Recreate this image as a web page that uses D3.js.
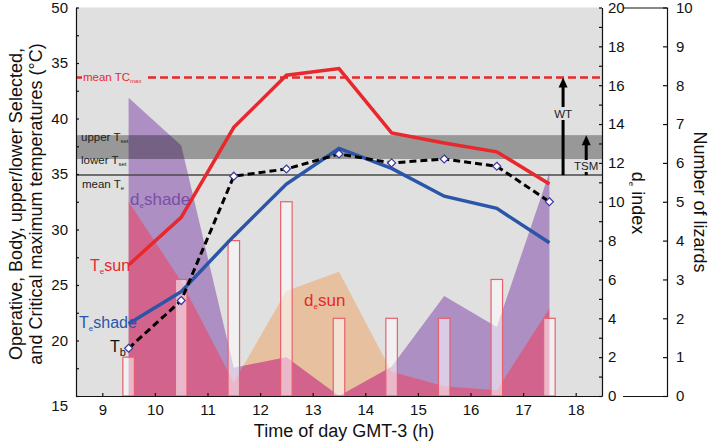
<!DOCTYPE html>
<html><head><meta charset="utf-8">
<script src="https://cdn.jsdelivr.net/npm/d3@7"></script>
<style>body{margin:0;background:#fff}svg{display:block;font-family:"Liberation Sans",Arial,sans-serif}</style>
</head><body><svg id="c" width="709" height="441"></svg>
<script>
// ---------- data ----------
const hours    = [9.5, 10.5, 11.5, 12.5, 13.5, 14.5, 15.5, 16.5, 17.5];
const teSun    = [26.8, 31.1, 39.2, 43.9, 44.5, 38.7, 37.8, 37.0, 34.1];
const teShade  = [21.5, 24.4, 29.4, 34.1, 37.3, 35.5, 33.0, 31.9, 28.8];
const tb       = [19.3, 23.6, 34.8, 35.45, 36.8, 36.0, 36.35, 35.7, 32.5];
const deShade  = [15.35, 12.9, 1.45, 2.0, 0.0, 1.5, 5.15, 3.55, 11.5];
const deSun    = [10.0, 5.9, 0.7, 5.4, 6.4, 1.25, 0.5, 0.3, 4.5];
const lizards  = [1, 3, 4, 5, 2, 2, 2, 3, 2];
const meanTCmax = 43.7, upperTset = 38.5, lowerTset = 36.35, meanTe = 34.9;
const wtHour = 17.76, tsmHour = 18.2;
const xTicks = [9, 10, 11, 12, 13, 14, 15, 16, 17, 18];
const leftTicks = [15, 20, 25, 30, 35, 40, 45, 50];
const leftTickLabels = ["15", "20", "25", "30", "35", "40", "35", "50"];
const leftMinor = [17.5, 22.5, 27.5, 32.5, 37.5, 42.5, 47.5];
const deTicks = [0, 2, 4, 6, 8, 10, 12, 14, 16, 18, 20];
const deMinor = [1, 3, 5, 7, 9, 11, 13, 15, 17, 19];
const nTicks = [0, 1, 2, 3, 4, 5, 6, 7, 8, 9, 10];

// ---------- layout ----------
const L = 76, R = 602, T = 7.5, B = 396;
const svg = d3.select("#c");
const x  = d3.scaleLinear().domain([8.5, 18.5]).range([L, R]);
const yT = d3.scaleLinear().domain([15, 50]).range([B, T]);
const yD = d3.scaleLinear().domain([0, 20]).range([B, T]);
const yN = d3.scaleLinear().domain([0, 10]).range([B, T]);
const BG = "#dfe0df", RED = "#e8282c", BLUE = "#2a55a8", PURPLE = "#7a4ea6";

svg.append("rect").attr("x", L).attr("y", T).attr("width", R - L).attr("height", B - T).attr("fill", BG);

// areas
const area = d3.area().x((d, i) => x(hours[i])).y0(yD(0)).y1(d => yD(d));
svg.append("defs").append("clipPath").attr("id", "shadeClip")
  .append("path").attr("d", area(deShade));
svg.append("path").attr("d", area(deShade)).attr("fill", "#8c58b0").attr("fill-opacity", 0.6);
svg.append("path").attr("d", area(deSun)).attr("fill", "#f29a52").attr("fill-opacity", 0.45);
svg.append("path").attr("d", area(deSun)).attr("clip-path", "url(#shadeClip)")
  .attr("fill", "#d4508a").attr("fill-opacity", 0.72);

// bars (number of lizards)
const bw = 11.5;
svg.append("g").selectAll("rect").data(lizards).join("rect")
  .attr("x", (d, i) => x(hours[i]) - bw / 2).attr("y", d => yN(d))
  .attr("width", bw).attr("height", d => yN(0) - yN(d))
  .attr("fill", "#fff").attr("fill-opacity", 0.55)
  .attr("stroke", "#e8606e").attr("stroke-width", 1.2);

// Tset band
svg.append("rect").attr("x", L).attr("width", R - L)
  .attr("y", yT(upperTset)).attr("height", yT(lowerTset) - yT(upperTset))
  .attr("fill", "#000").attr("fill-opacity", 0.32);

// mean Te line
svg.append("line").attr("x1", L).attr("x2", R).attr("y1", yT(meanTe)).attr("y2", yT(meanTe))
  .attr("stroke", "#4a4a4a").attr("stroke-width", 1.5);

// mean TCmax dashed
svg.append("line").attr("x1", L).attr("x2", R).attr("y1", yT(meanTCmax)).attr("y2", yT(meanTCmax))
  .attr("stroke", RED).attr("stroke-width", 2.5).attr("stroke-dasharray", "8,4");

// helper for text with subscripts
function richText(g, px, py, parts, size, color, anchor) {
  const t = g.append("text").attr("x", px).attr("y", py).attr("font-size", size)
    .attr("fill", color).attr("text-anchor", anchor || "start");
  parts.forEach(p => {
    const s = t.append("tspan").text(p[0]);
    if (p[1]) s.attr("font-size", p[1]).attr("dy", p[2] || 3);
    if (p[3]) s.attr("dy", p[3]);
  });
  return t;
}
function bgText(px, py, w, h) {
  svg.append("rect").attr("x", px).attr("y", py).attr("width", w).attr("height", h).attr("fill", BG);
}
bgText(82, yT(meanTCmax) - 5, 62, 10);

// lines
const line = d3.line().x((d, i) => x(hours[i])).y(d => yT(d));
svg.append("path").attr("d", line(teSun)).attr("fill", "none").attr("stroke", RED).attr("stroke-width", 3.5);
svg.append("path").attr("d", line(teShade)).attr("fill", "none").attr("stroke", BLUE).attr("stroke-width", 3.5);
svg.append("path").attr("d", line(tb)).attr("fill", "none").attr("stroke", "#000")
  .attr("stroke-width", 3).attr("stroke-dasharray", "7,4");
const dm = 4;
svg.append("g").selectAll("path").data(tb).join("path")
  .attr("transform", (d, i) => `translate(${x(hours[i])},${yT(d)})`)
  .attr("d", `M0,${-dm}L${dm},0L0,${dm}L${-dm},0Z`)
  .attr("fill", "#fff").attr("stroke", "#3a3aa0").attr("stroke-width", 1.2);

// arrows WT and TSM
function arrow(h, v0, v1) {
  const xx = x(h), ya = yT(v0), yb = yT(v1);
  svg.append("line").attr("x1", xx).attr("x2", xx).attr("y1", ya).attr("y2", yb + 8)
    .attr("stroke", "#000").attr("stroke-width", 3);
  svg.append("path").attr("d", `M${xx - 4.5},${yb + 10}L${xx},${yb}L${xx + 4.5},${yb + 10}Z`).attr("fill", "#000");
}
arrow(wtHour, meanTe, meanTCmax);
arrow(tsmHour, meanTe, upperTset);
bgText(x(wtHour) - 11, 107, 22, 13);
bgText(x(tsmHour) - 12, 160, 24, 12);

// text labels
richText(svg, 83, yT(meanTCmax) + 4, [["mean TC"], ["max", 6, 2]], 11.5, RED);
richText(svg, 81, 141, [["upper T"], ["set", 6, 2]], 11.5, "#222");
richText(svg, 81, 164, [["lower T"], ["set", 6, 2]], 11.5, "#222");
richText(svg, 82, 188, [["mean T"], ["e", 6, 2]], 11.5, "#222");
richText(svg, x(wtHour), 117.5, [["WT"]], 11.5, "#222", "middle");
richText(svg, x(tsmHour), 170, [["TSM"]], 11.5, "#222", "middle");
richText(svg, 90, 271, [["T"], ["e", 8, 3], ["sun", null, null, -3]], 16, RED);
richText(svg, 79, 328, [["T"], ["e", 8, 3], ["shade", null, null, -3]], 16, BLUE);
richText(svg, 110, 352, [["T"], ["b", 11, 4]], 16, "#111");
richText(svg, 130, 205, [["d"], ["e", 8, 3], ["shade", null, null, -3]], 17, PURPLE);
richText(svg, 304, 306, [["d"], ["e", 8, 3], ["sun", null, null, -3]], 17, RED);

// ---------- axes ----------
const fs = 15;
const gl = svg.append("g").attr("transform", `translate(${L},0)`)
  .call(d3.axisLeft(yT).tickValues(leftTicks).tickFormat((d, i) => leftTickLabels[i])
    .tickSize(-3).tickSizeOuter(0).tickPadding(8));
svg.append("g").attr("transform", `translate(${L},0)`)
  .call(d3.axisLeft(yT).tickValues(leftMinor).tickFormat("").tickSize(-3).tickSizeOuter(0))
  .select(".domain").remove();
gl.selectAll(".tick text").filter(d => d === 15).attr("dy", "0.95em");

svg.append("g").attr("transform", `translate(0,${B})`)
  .call(d3.axisBottom(x).tickValues(xTicks).tickFormat(d3.format("d"))
    .tickSize(-3).tickSizeOuter(0).tickPadding(8));

svg.append("g").attr("transform", `translate(${R},0)`)
  .call(d3.axisRight(yD).tickValues(deTicks).tickSize(-3).tickSizeOuter(0).tickPadding(6));
svg.append("g").attr("transform", `translate(${R},0)`)
  .call(d3.axisRight(yD).tickValues(deMinor).tickFormat("").tickSize(-3).tickSizeOuter(0))
  .select(".domain").remove();

svg.append("g").attr("transform", `translate(667,0)`)
  .call(d3.axisRight(yN).tickValues(nTicks).tickSize(-4).tickSizeOuter(-44).tickPadding(9));

svg.selectAll(".tick text").attr("font-size", fs).attr("font-family", "Liberation Sans, Arial, sans-serif").attr("fill", "#111");
svg.selectAll(".domain, .tick line").attr("stroke", "#111").attr("stroke-width", 1.2);

// titles
const TF = 18;
svg.append("text").attr("x", 344).attr("y", 437).attr("text-anchor", "middle")
  .attr("font-size", TF).attr("fill", "#111").text("Time of day GMT-3 (h)");
const lt = svg.append("g").attr("transform", "translate(22,204) rotate(-90)");
lt.append("text").attr("text-anchor", "middle").attr("font-size", TF).attr("fill", "#111")
  .text("Operative, Body, upper/lower Selected,");
lt.append("text").attr("y", 19.5).attr("text-anchor", "middle").attr("font-size", TF).attr("fill", "#111")
  .text("and Critical maximum temperatures (°C)");
const dt = svg.append("g").attr("transform", "translate(632,203) rotate(90)");
richText(dt, 0, 0, [["d"], ["e", 8, 3], [" index", null, null, -3]], TF, "#111", "middle");
svg.append("g").attr("transform", "translate(694,202) rotate(90)")
  .append("text").attr("text-anchor", "middle").attr("font-size", TF).attr("fill", "#111")
  .text("Number of lizards");
</script></body></html>
